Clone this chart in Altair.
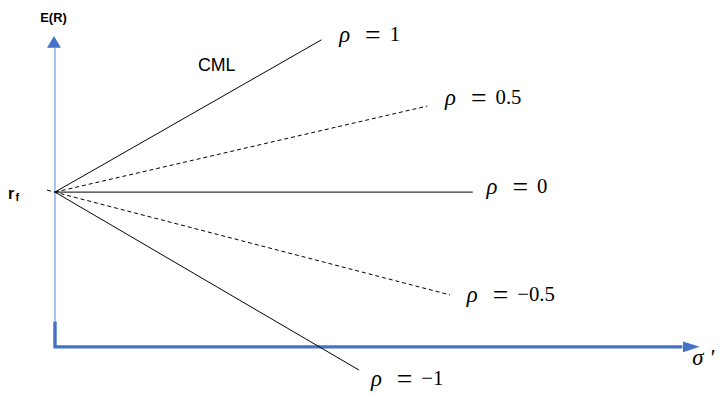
import altair as alt
import pandas as pd

# ---- data (sigma on x, expected return on y) ----
rho_values = ["1", "0.5", "0", "−0.5", "−1"]
dashed = [False, True, False, True, False]
rf = 3.13
start_sigma = [0.0, 0.0, 0.0, -0.16, 0.0]
start_er = [rf, rf, rf, 3.17, rf]
end_sigma = [5.39, 7.53, 8.45, 7.99, 6.15]
end_er = [6.21, 4.87, 3.13, 1.05, -0.47]
label_sigma = [5.75, 7.89, 8.73, 8.33, 6.39]
label_er = [6.31, 5.03, 3.23, 1.05, -0.65]

annot_text = ["E(R)", "CML"]
annot_sigma = [-0.03, 3.27]
annot_er = [6.66, 5.67]

X_DOMAIN = [-0.95, 13.45]
Y_DOMAIN = [-0.91, 6.81]
BLUE = "#4472C4"

rows = []
for i, v in enumerate(rho_values):
    rows.append({"rho": v, "dashed": dashed[i], "sigma": start_sigma[i], "er": start_er[i], "o": 0})
    rows.append({"rho": v, "dashed": dashed[i], "sigma": end_sigma[i], "er": end_er[i], "o": 1})
lines_df = pd.DataFrame(rows)
labels_df = pd.DataFrame({"rho": rho_values, "sigma": label_sigma, "er": label_er,
                          "sym": ["ρ"] * 5, "eq": ["="] * 5})

xs = alt.Scale(domain=X_DOMAIN, nice=False, zero=False)
ys = alt.Scale(domain=Y_DOMAIN, nice=False, zero=False)
X = lambda f: alt.X(f, type="quantitative", scale=xs, axis=None)
Y = lambda f: alt.Y(f, type="quantitative", scale=ys, axis=None)

base_lines = alt.Chart(lines_df)
solid = base_lines.transform_filter("!datum.dashed").mark_line(color="black", strokeWidth=1).encode(
    x=X("sigma"), y=Y("er"), detail="rho:N", order="o:Q")
dash = base_lines.transform_filter("datum.dashed").mark_line(color="black", strokeWidth=1, strokeDash=[4, 3]).encode(
    x=X("sigma"), y=Y("er"), detail="rho:N", order="o:Q")

# axes drawn as rules with arrows
axes_df = pd.DataFrame({
    "part": ["ythin", "ythick", "xthick"],
    "x1": [0.0, 0.0, -0.03], "y1": [0.0, 0.0, 0.0],
    "x2": [0.0, 0.0, 12.69], "y2": [6.05, 0.51, 0.0],
})
ythin = alt.Chart(axes_df).transform_filter("datum.part=='ythin'").mark_rule(color="#7aa0d8", strokeWidth=1.3).encode(
    x=X("x1"), y=Y("y1"), x2="x2:Q", y2="y2:Q")
thick = alt.Chart(axes_df).transform_filter("datum.part!='ythin'").mark_rule(color=BLUE, strokeWidth=3.5).encode(
    x=X("x1"), y=Y("y1"), x2="x2:Q", y2="y2:Q")

arrows_df = pd.DataFrame({"dir": ["up", "right"], "sigma": [-0.02, 12.87], "er": [6.17, 0.0]})
up = alt.Chart(arrows_df).transform_filter("datum.dir=='up'").mark_point(
    shape="M-1,0.85L0,-0.85L1,0.85Z", size=196, filled=True, color=BLUE, opacity=1).encode(x=X("sigma"), y=Y("er"))
right = alt.Chart(arrows_df).transform_filter("datum.dir=='right'").mark_point(
    shape="M-1,-0.65L1,0L-1,0.65Z", size=289, filled=True, color=BLUE, opacity=1).encode(x=X("sigma"), y=Y("er"))

annot_df = pd.DataFrame({"t": annot_text, "sigma": annot_sigma, "er": annot_er})
er_lbl = alt.Chart(annot_df).transform_filter("datum.t=='E(R)'").mark_text(
    font="Liberation Sans", fontSize=13, fontWeight="bold", align="center", baseline="middle", color="black").encode(
    x=X("sigma"), y=Y("er"), text="t:N")
cml_lbl = alt.Chart(annot_df).transform_filter("datum.t=='CML'").mark_text(
    font="Liberation Sans", fontSize=18, align="center", baseline="middle", color="black").encode(
    x=X("sigma"), y=Y("er"), text="t:N")

rf_df = pd.DataFrame({"t": ["r", "f"], "sigma": [-0.95, -0.80], "er": [2.99, 2.95]})
r_lbl = alt.Chart(rf_df).transform_filter("datum.t=='r'").mark_text(
    font="Liberation Sans", fontSize=16, fontWeight="bold", align="left", baseline="alphabetic", color="black").encode(
    x=X("sigma"), y=Y("er"), text="t:N")
f_lbl = alt.Chart(rf_df).transform_filter("datum.t=='f'").mark_text(
    font="Liberation Sans", fontSize=11, fontWeight="bold", align="left", baseline="alphabetic", color="black").encode(
    x=X("sigma"), y=Y("er"), text="t:N")

sig_df = pd.DataFrame({"t": ["σ '"], "sigma": [12.89], "er": [-0.23]})
sig_lbl = alt.Chart(sig_df).mark_text(
    font="Liberation Serif", fontSize=23, fontStyle="italic", align="left", baseline="middle", color="black").encode(
    x=X("sigma"), y=Y("er"), text="t:N")

lab = alt.Chart(labels_df)
rho_sym = lab.mark_text(font="Liberation Serif", fontSize=23, fontStyle="italic", align="left",
                        baseline="middle", color="black").encode(x=X("sigma"), y=Y("er"), text="sym:N")
rho_eq = lab.mark_text(font="Liberation Serif", fontSize=28, align="center", dx=34, dy=1,
                       baseline="middle", color="black").encode(x=X("sigma"), y=Y("er"), text="eq:N")
rho_val = lab.mark_text(font="Liberation Serif", fontSize=21, align="left", dx=51,
                        baseline="middle", color="black").encode(x=X("sigma"), y=Y("er"), text="rho:N")

chart = alt.layer(
    ythin, thick, up, right, solid, dash,
    er_lbl, cml_lbl, r_lbl, f_lbl, sig_lbl, rho_sym, rho_eq, rho_val
).properties(
    width=720, height=386, padding=0, autosize=alt.AutoSizeParams(type="none"), background="white"
).configure_view(stroke=None)

chart.save("out.html", embed_options={"renderer": "svg", "actions": False})
